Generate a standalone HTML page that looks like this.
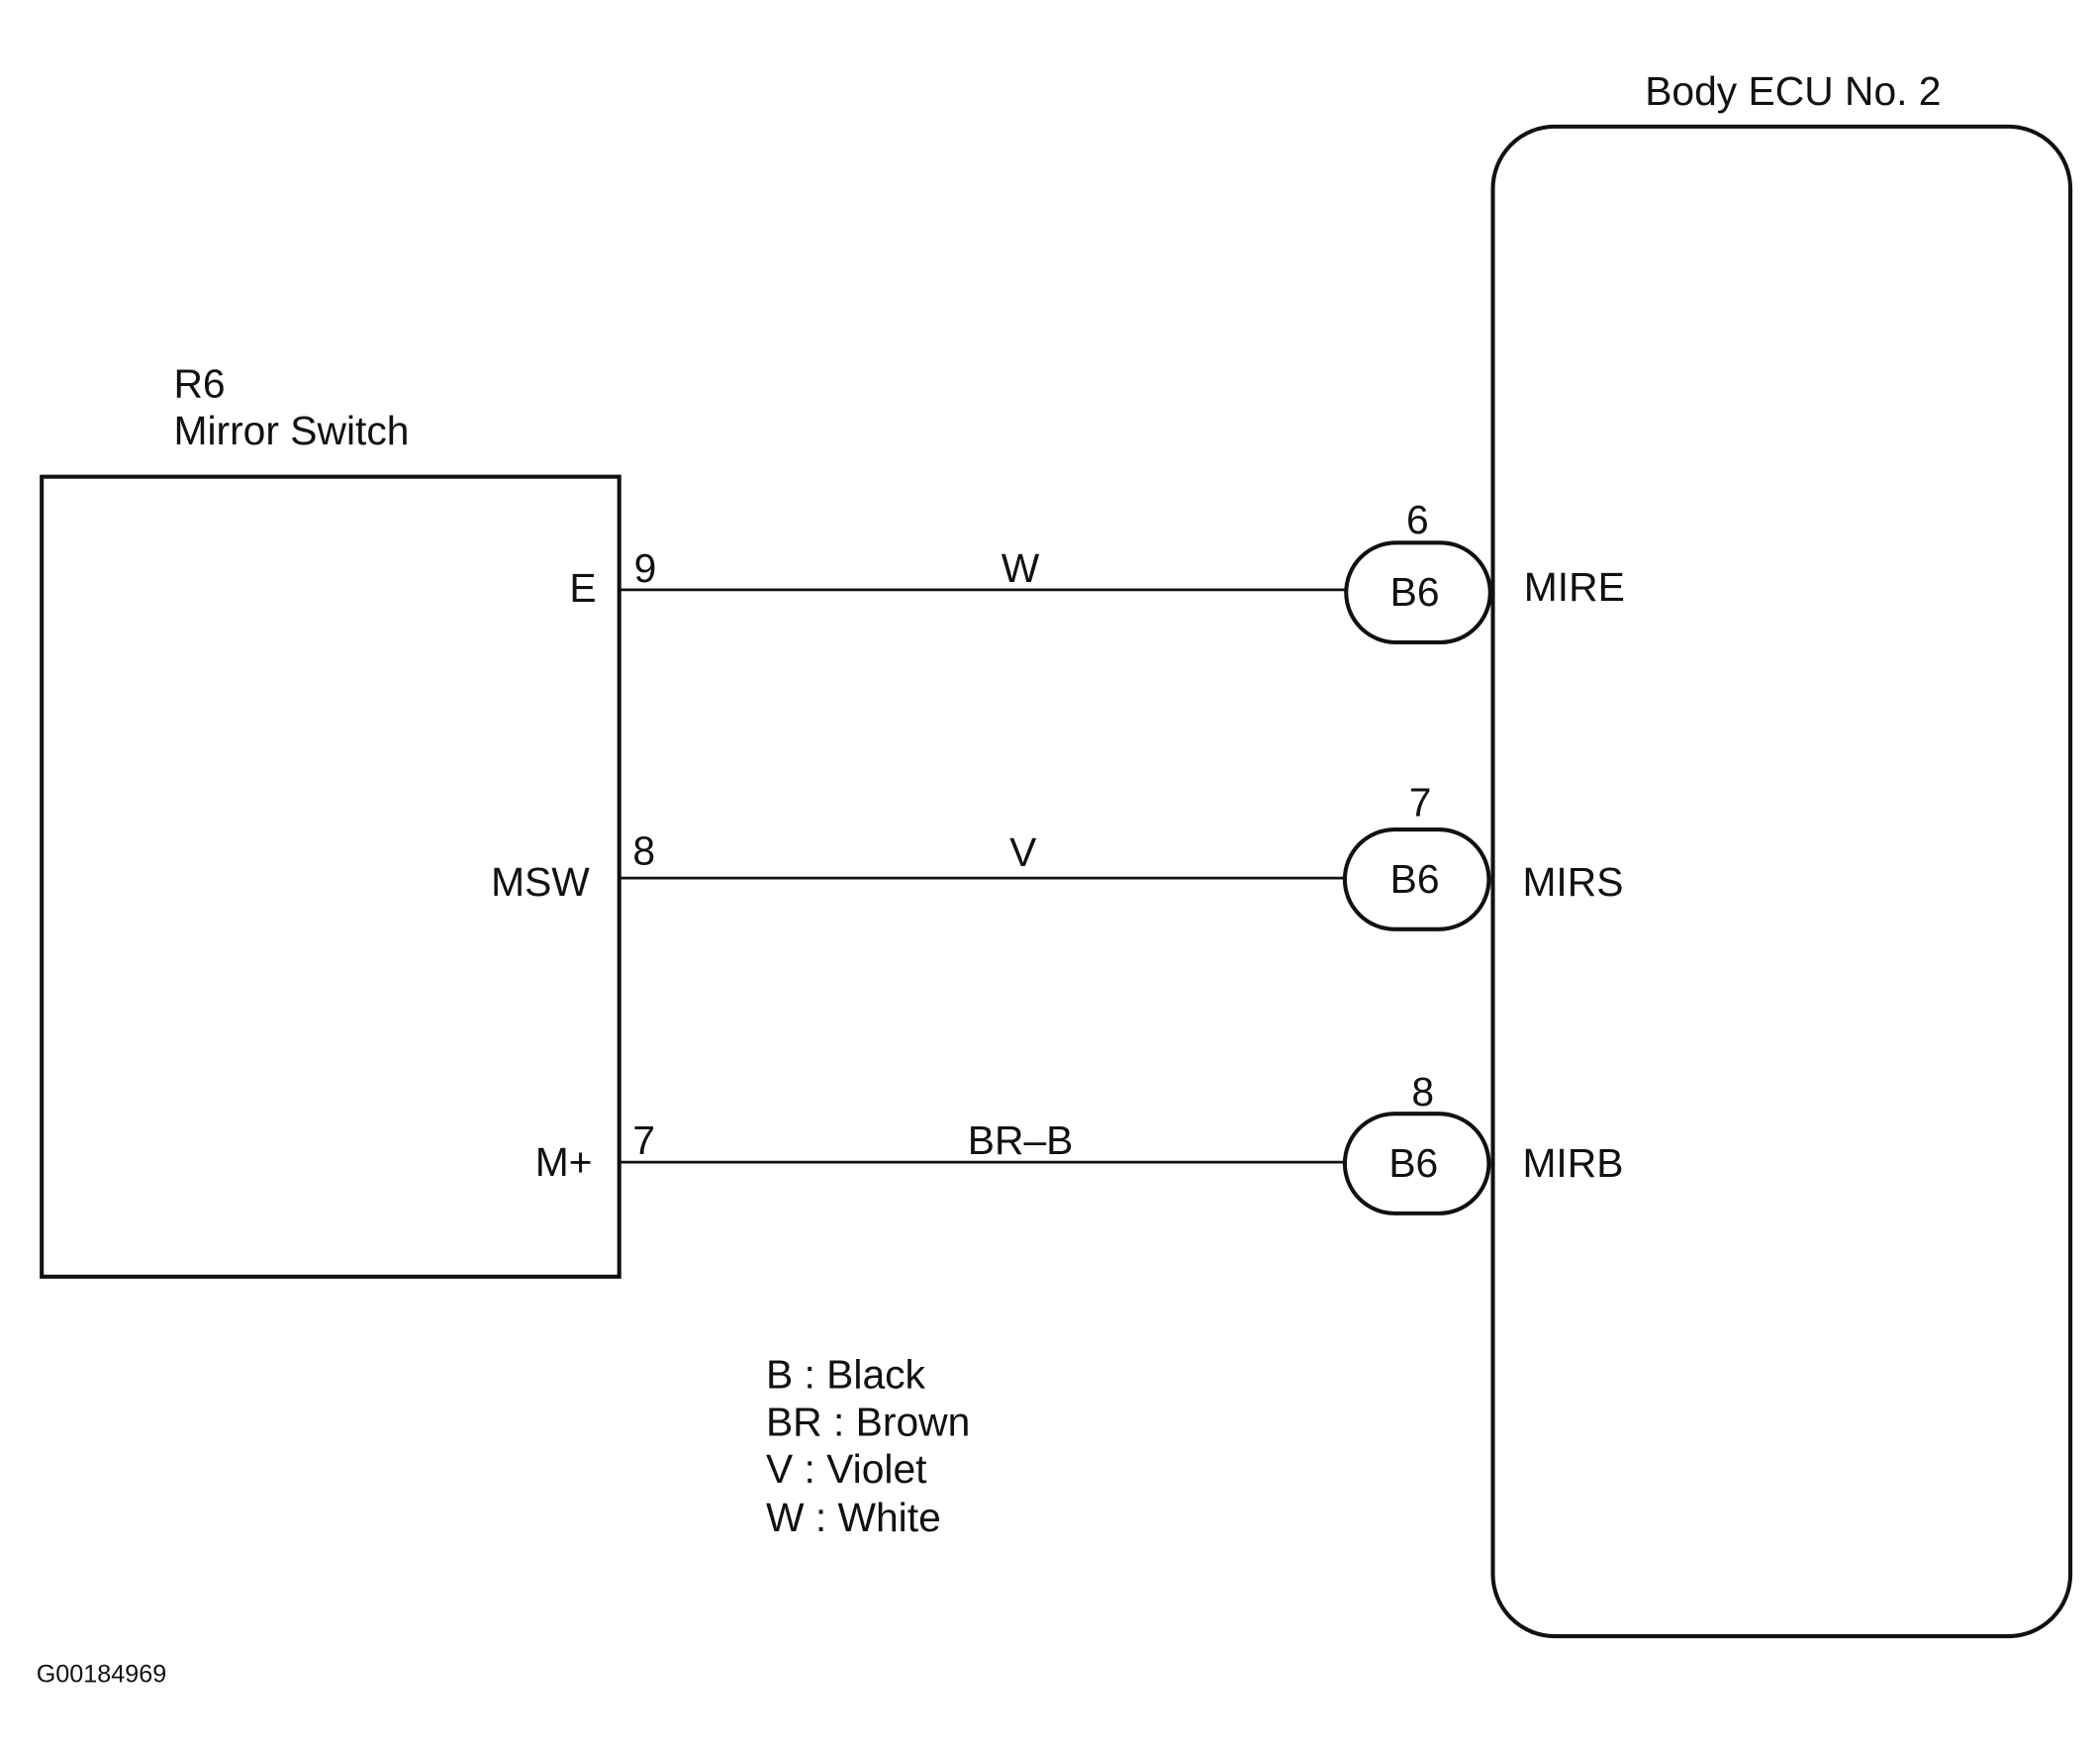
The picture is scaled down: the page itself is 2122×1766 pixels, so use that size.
<!DOCTYPE html>
<html><head><meta charset="utf-8"><style>
html,body{margin:0;padding:0;background:#fff;}
svg{display:block;}
text{font-family:"Liberation Sans",Arial,sans-serif;fill:#111;}
</style></head><body>
<svg width="2122" height="1766" viewBox="0 0 1560 1298" preserveAspectRatio="none" xmlns="http://www.w3.org/2000/svg">
<g fill="none" stroke="#111" stroke-width="3">
<rect x="31" y="354" width="429" height="594"/>
<rect x="1109" y="94" width="429" height="1121" rx="46" ry="46"/>
</g>
<g stroke="#111" stroke-width="2">
<line x1="460" y1="438" x2="1000" y2="438"/>
<line x1="460" y1="652" x2="1000" y2="652"/>
<line x1="460" y1="863" x2="1000" y2="863"/>
</g>
<g fill="#fff" stroke="#111" stroke-width="3">
<rect x="1000" y="403" width="107" height="74" rx="37" ry="37"/>
<rect x="999" y="616" width="107" height="74" rx="37" ry="37"/>
<rect x="999" y="827" width="107" height="74" rx="37" ry="37"/>
</g>
<g font-size="30">
<text x="129" y="295">R6</text>
<text x="129" y="330">Mirror Switch</text>
<text x="1222" y="78">Body ECU No. 2</text>
<text x="443" y="447" text-anchor="end">E</text>
<text x="438" y="665" text-anchor="end">MSW</text>
<text x="440" y="873" text-anchor="end">M+</text>
<text x="471" y="432">9</text>
<text x="470" y="642">8</text>
<text x="470" y="857">7</text>
<text x="758" y="432" text-anchor="middle">W</text>
<text x="760" y="643" text-anchor="middle">V</text>
<text x="758" y="857" text-anchor="middle">BR–B</text>
<text x="1053" y="396" text-anchor="middle">6</text>
<text x="1055" y="606" text-anchor="middle">7</text>
<text x="1057" y="821" text-anchor="middle">8</text>
<text x="1051" y="450" text-anchor="middle">B6</text>
<text x="1051" y="663" text-anchor="middle">B6</text>
<text x="1050" y="874" text-anchor="middle">B6</text>
<text x="1132" y="446">MIRE</text>
<text x="1131" y="665">MIRS</text>
<text x="1131" y="874">MIRB</text>
<text x="569" y="1031">B : Black</text>
<text x="569" y="1066">BR : Brown</text>
<text x="569" y="1101">V : Violet</text>
<text x="569" y="1137">W : White</text>
</g>
<text x="27" y="1249" font-size="18.5">G00184969</text>
</svg>
</body></html>
